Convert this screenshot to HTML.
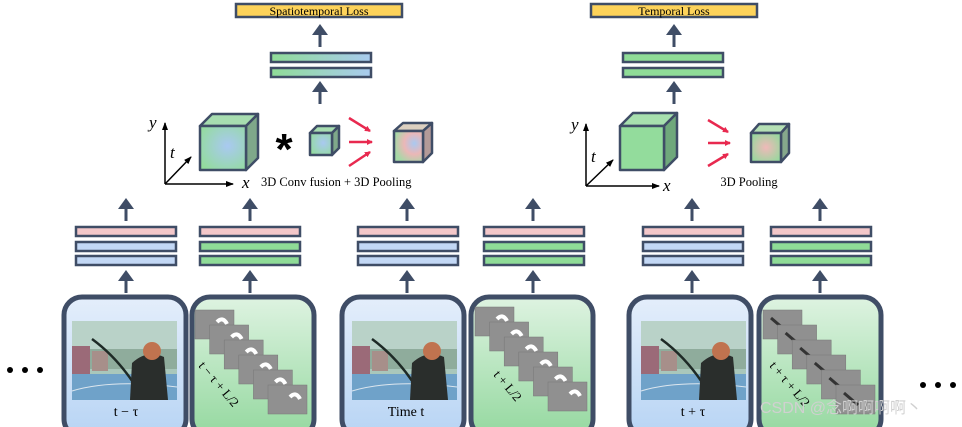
<!DOCTYPE html>
<html><head><meta charset="utf-8"><style>
html,body{margin:0;padding:0;background:#fff;}
svg{display:block;}
text{font-family:"Liberation Serif",serif;}
</style></head><body>
<svg width="962" height="427" viewBox="0 0 962 427" xmlns="http://www.w3.org/2000/svg">
<defs>
<linearGradient id="gb" x1="0" y1="0" x2="0" y2="1"><stop offset="0" stop-color="#e4eefb"/><stop offset="1" stop-color="#b7d4f4"/></linearGradient>
<linearGradient id="gg" x1="0" y1="0" x2="0" y2="1"><stop offset="0" stop-color="#def3e1"/><stop offset="1" stop-color="#94d89f"/></linearGradient>
<linearGradient id="barGB" x1="0" y1="0" x2="1" y2="0"><stop offset="0" stop-color="#8fdc97"/><stop offset="1" stop-color="#a9cbef"/></linearGradient>
<radialGradient id="cube1" cx="0.6" cy="0.45" r="0.7"><stop offset="0" stop-color="#a9c9f1"/><stop offset="1" stop-color="#93dc9c"/></radialGradient>
<radialGradient id="cube3" cx="0.7" cy="0.4" r="0.7"><stop offset="0" stop-color="#a9c9f1"/><stop offset="0.5" stop-color="#ebb7b7"/><stop offset="1" stop-color="#a6d9a6"/></radialGradient>
<radialGradient id="cube4" cx="0.5" cy="0.5" r="0.6"><stop offset="0" stop-color="#f0b9b9"/><stop offset="1" stop-color="#97d89d"/></radialGradient>
<marker id="ra" markerWidth="6" markerHeight="6" refX="5" refY="3" orient="auto" markerUnits="userSpaceOnUse"><path d="M0,0 L6,3 L0,6 z" fill="#e8294f"/></marker>
<marker id="ka" markerWidth="8" markerHeight="8" refX="7" refY="4" orient="auto" markerUnits="userSpaceOnUse"><path d="M0,1 L8,4 L0,7 z" fill="#000"/></marker>
<g id="photo">
<rect x="0" y="0" width="105" height="79" fill="#a9c7bb"/>
<rect x="0" y="0" width="105" height="30" fill="#b9d2c8"/>
<rect x="0" y="28" width="105" height="20" fill="#8fac9c"/>
<rect x="0" y="25" width="18" height="28" fill="#9b6a78"/>
<rect x="20" y="30" width="16" height="20" fill="#a78f8a"/>
<rect x="0" y="53" width="105" height="26" fill="#6fa2c9"/>
<path d="M0,70 Q40,58 105,66" stroke="#dce6ee" stroke-width="1" fill="none"/>
<path d="M20,18 Q50,40 70,76" stroke="#1e2a26" stroke-width="2.5" fill="none"/>
<path d="M60,42 Q75,28 92,36 L96,79 L58,79 Z" fill="#2a2e2c"/>
<circle cx="80" cy="30" r="9" fill="#c0734f"/>
</g>
<g id="frame"><rect width="39" height="29" fill="#909090" stroke="#777" stroke-width="0.5"/><path d="M22,12 q6,-6 10,2" stroke="#fff" stroke-width="4" fill="none"/></g>
<g id="frameD"><rect width="39" height="29" fill="#909090" stroke="#777" stroke-width="0.5"/><path d="M8,8 l14,12" stroke="#333" stroke-width="3" fill="none"/></g>
<g id="flows"><use href="#frame" x="0" y="0"/><use href="#frame" x="14.6" y="15"/><use href="#frame" x="29.2" y="30"/><use href="#frame" x="43.8" y="45"/><use href="#frame" x="58.4" y="60"/><use href="#frame" x="73" y="75"/></g>
<g id="flowsD"><use href="#frameD" x="0" y="0"/><use href="#frameD" x="14.6" y="15"/><use href="#frameD" x="29.2" y="30"/><use href="#frameD" x="43.8" y="45"/><use href="#frameD" x="58.4" y="60"/><use href="#frameD" x="73" y="75"/></g>
<g id="up"><rect x="-1.5" y="9" width="3" height="14" fill="#3f4d66"/><path d="M-8,11 L0,0 L8,11 z" fill="#3f4d66"/></g>
</defs>

<g stroke="#3f4d66" stroke-width="5">
<rect x="64" y="297" width="122" height="140" rx="18" fill="url(#gb)"/>
<rect x="192" y="297" width="122" height="140" rx="18" fill="url(#gg)"/>
<rect x="342" y="297" width="122" height="140" rx="18" fill="url(#gb)"/>
<rect x="471" y="297" width="122" height="140" rx="18" fill="url(#gg)"/>
<rect x="629" y="297" width="122" height="140" rx="18" fill="url(#gb)"/>
<rect x="759" y="297" width="122" height="140" rx="18" fill="url(#gg)"/>
</g>
<use href="#photo" x="72" y="321"/>
<use href="#photo" x="352" y="321"/>
<use href="#photo" x="641" y="321"/>
<use href="#flows" x="195" y="310"/>
<use href="#flows" x="475" y="307"/>
<use href="#flowsD" x="763" y="310"/>
<text x="126" y="416" font-size="14" text-anchor="middle">t − τ</text>
<text x="406" y="416" font-size="14" text-anchor="middle">Time t</text>
<text x="693" y="416" font-size="14" text-anchor="middle">t + τ</text>
<text x="0" y="0" font-size="13" transform="translate(198,366) rotate(50)">t − τ + L/2</text>
<text x="0" y="0" font-size="13" transform="translate(493,375) rotate(50)">t + L/2</text>
<text x="0" y="0" font-size="13" transform="translate(769,366) rotate(50)">t + τ + L/2</text>

<g fill="#000"><circle cx="10" cy="370" r="3"/><circle cx="25" cy="370" r="3"/><circle cx="40" cy="370" r="3"/>
<circle cx="923" cy="385" r="3"/><circle cx="938" cy="385" r="3"/><circle cx="953" cy="385" r="3"/></g>
<text x="760" y="413" font-size="16" fill="#d0d0d0" style="font-family:'Liberation Sans','Noto Sans CJK SC',sans-serif">CSDN @念啊啊啊啊丶</text>

<g stroke="#3f4d66" stroke-width="2.5">
<rect x="76" y="227" width="100" height="9" fill="#f3c7c9"/><rect x="76" y="242" width="100" height="9" fill="#c3d8f5"/><rect x="76" y="256" width="100" height="9" fill="#c3d8f5"/>
<rect x="200" y="227" width="100" height="9" fill="#f3c7c9"/><rect x="200" y="242" width="100" height="9" fill="#8fdc97"/><rect x="200" y="256" width="100" height="9" fill="#8fdc97"/>
<rect x="358" y="227" width="100" height="9" fill="#f3c7c9"/><rect x="358" y="242" width="100" height="9" fill="#c3d8f5"/><rect x="358" y="256" width="100" height="9" fill="#c3d8f5"/>
<rect x="484" y="227" width="100" height="9" fill="#f3c7c9"/><rect x="484" y="242" width="100" height="9" fill="#8fdc97"/><rect x="484" y="256" width="100" height="9" fill="#8fdc97"/>
<rect x="643" y="227" width="100" height="9" fill="#f3c7c9"/><rect x="643" y="242" width="100" height="9" fill="#c3d8f5"/><rect x="643" y="256" width="100" height="9" fill="#c3d8f5"/>
<rect x="771" y="227" width="100" height="9" fill="#f3c7c9"/><rect x="771" y="242" width="100" height="9" fill="#8fdc97"/><rect x="771" y="256" width="100" height="9" fill="#8fdc97"/>
<rect x="271" y="53" width="100" height="9" fill="url(#barGB)"/><rect x="271" y="68" width="100" height="9" fill="url(#barGB)"/>
<rect x="623" y="53" width="100" height="9" fill="#8fdc97"/><rect x="623" y="68" width="100" height="9" fill="#8fdc97"/>
<rect x="236" y="4" width="166" height="13" fill="#fdd35a"/>
<rect x="591" y="4" width="166" height="13" fill="#fdd35a"/>
</g>
<text x="319" y="15" font-size="12" text-anchor="middle">Spatiotemporal Loss</text>
<text x="674" y="15" font-size="12" text-anchor="middle">Temporal Loss</text>

<g>
<use href="#up" x="126" y="270"/><use href="#up" x="250" y="270"/><use href="#up" x="407" y="270"/><use href="#up" x="533" y="270"/><use href="#up" x="692" y="270"/><use href="#up" x="820" y="270"/>
<use href="#up" x="126" y="198"/><use href="#up" x="250" y="198"/><use href="#up" x="407" y="198"/><use href="#up" x="533" y="198"/><use href="#up" x="692" y="198"/><use href="#up" x="820" y="198"/>
<use href="#up" x="320" y="24"/><use href="#up" x="320" y="81"/>
<use href="#up" x="674" y="24"/><use href="#up" x="674" y="81"/>
</g>

<g stroke="#000" stroke-width="1.5" fill="none">
<line x1="165" y1="184" x2="165" y2="123" marker-end="url(#ka)"/>
<line x1="165" y1="184" x2="233" y2="184" marker-end="url(#ka)"/>
<line x1="165" y1="184" x2="191" y2="157" marker-end="url(#ka)"/>
<line x1="586" y1="186" x2="586" y2="124" marker-end="url(#ka)"/>
<line x1="586" y1="186" x2="659" y2="186" marker-end="url(#ka)"/>
<line x1="586" y1="186" x2="613" y2="160" marker-end="url(#ka)"/>
</g>
<g font-style="italic" font-size="17">
<text x="149" y="128">y</text><text x="170" y="158">t</text><text x="242" y="188">x</text>
<text x="571" y="130">y</text><text x="591" y="162">t</text><text x="663" y="191">x</text>
</g>
<text x="261" y="186" font-size="12.5">3D Conv fusion + 3D Pooling</text>
<text x="749" y="186" font-size="12.5" text-anchor="middle">3D Pooling</text>
<text x="284" y="164" font-size="44" font-weight="bold" text-anchor="middle" style="font-family:'Liberation Sans',sans-serif">*</text>

<g stroke="#3f4d66" stroke-width="2.5" stroke-linejoin="round">
<path d="M200,126 L212,114 L258,114 L246,126 Z" fill="#a7ddb0"/>
<path d="M246,126 L258,114 L258,158 L246,170 Z" fill="#7fa88a"/>
<rect x="200" y="126" width="46" height="44" fill="url(#cube1)"/>
<path d="M310,133 L317,126 L339,126 L332,133 Z" fill="#a7ddb0"/>
<path d="M332,133 L339,126 L339,148 L332,155 Z" fill="#7fa88a"/>
<rect x="310" y="133" width="22" height="22" fill="url(#cube1)"/>
<path d="M394,131 L403,123 L432,123 L423,131 Z" fill="#dcd0c0"/>
<path d="M423,131 L432,123 L432,153 L423,162 Z" fill="#b39a98"/>
<rect x="394" y="131" width="29" height="31" fill="url(#cube3)"/>
<path d="M620,126 L633,113 L677,113 L664,126 Z" fill="#a7e0ae"/>
<path d="M664,126 L677,113 L677,157 L664,170 Z" fill="#6fa87b"/>
<rect x="620" y="126" width="44" height="44" fill="#93dc9c"/>
<path d="M751,133 L759,124 L789,124 L781,133 Z" fill="#b5e0b5"/>
<path d="M781,133 L789,124 L789,153 L781,162 Z" fill="#86a88c"/>
<rect x="751" y="133" width="30" height="29" fill="url(#cube4)"/>
</g>

<g stroke="#e8294f" stroke-width="2.5" fill="none">
<line x1="349" y1="118" x2="370" y2="131" marker-end="url(#ra)"/>
<line x1="349" y1="142" x2="372" y2="142" marker-end="url(#ra)"/>
<line x1="349" y1="166" x2="370" y2="152" marker-end="url(#ra)"/>
<line x1="708" y1="120" x2="728" y2="132" marker-end="url(#ra)"/>
<line x1="708" y1="143" x2="730" y2="143" marker-end="url(#ra)"/>
<line x1="708" y1="166" x2="728" y2="154" marker-end="url(#ra)"/>
</g>
</svg>
</body></html>
